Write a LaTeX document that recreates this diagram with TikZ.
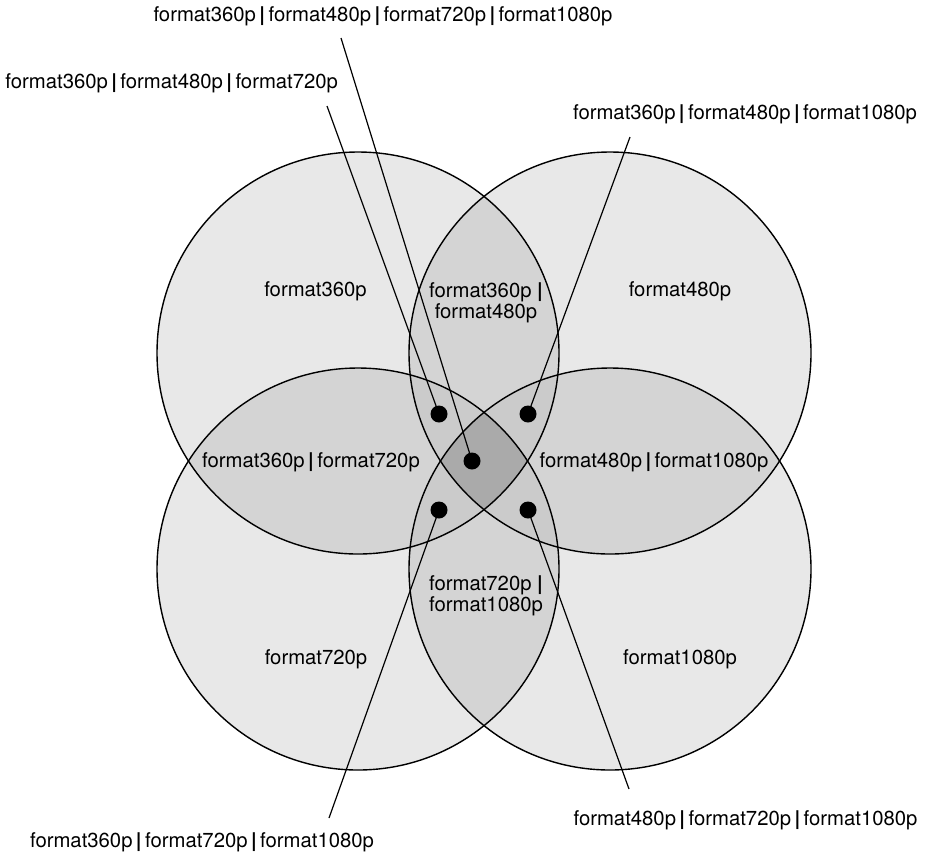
\documentclass[tikz,border=0pt]{standalone}
\usepackage{fontspec}
\setmainfont{TeX Gyre Heros}
\definecolor{oneset}{gray}{0.91}
\definecolor{twoset}{gray}{0.831}
\definecolor{threeset}{gray}{0.796}
\definecolor{fourset}{gray}{0.667}
% separator between format names
\newcommand{\orbar}{\hspace{0.17em}\textbf{|}\hspace{0.17em}}
\begin{document}
\begin{tikzpicture}[x=1pt,y=-1pt,
  lbl/.style={inner sep=0pt, font=\fontsize{20.3}{21}\selectfont, text=black},
  dotmark/.style={circle, fill=black, inner sep=0pt, minimum size=17pt},
  ring/.style={draw=black, line width=1.4pt},
  leader/.style={draw=black, line width=1.2pt}]
\useasboundingbox (0,0) rectangle (925,855);
\fill[white] (0,0) rectangle (925,855);

% the four sets
\def\cA{(358,353) circle[radius=201pt]}
\def\cB{(610,353) circle[radius=201pt]}
\def\cC{(358,569) circle[radius=201pt]}
\def\cD{(610,569) circle[radius=201pt]}

% single regions
\fill[oneset] \cA; \fill[oneset] \cB; \fill[oneset] \cC; \fill[oneset] \cD;
% pairwise overlaps
\begin{scope}\clip \cA; \fill[twoset] \cB; \end{scope}
\begin{scope}\clip \cA; \fill[twoset] \cC; \end{scope}
\begin{scope}\clip \cA; \fill[twoset] \cD; \end{scope}
\begin{scope}\clip \cB; \fill[twoset] \cC; \end{scope}
\begin{scope}\clip \cB; \fill[twoset] \cD; \end{scope}
\begin{scope}\clip \cC; \fill[twoset] \cD; \end{scope}
% triple overlaps
\begin{scope}\clip \cA; \clip \cB; \fill[threeset] \cC; \end{scope}
\begin{scope}\clip \cA; \clip \cB; \fill[threeset] \cD; \end{scope}
\begin{scope}\clip \cA; \clip \cC; \fill[threeset] \cD; \end{scope}
\begin{scope}\clip \cB; \clip \cC; \fill[threeset] \cD; \end{scope}
% all four
\begin{scope}\clip \cA; \clip \cB; \clip \cC; \fill[fourset] \cD; \end{scope}

% outlines
\draw[ring] \cA; \draw[ring] \cB; \draw[ring] \cC; \draw[ring] \cD;

% region labels
\node[lbl, anchor=base] (l360) at (315.5,296) {format360p};
\node[lbl, anchor=base] (l480) at (680,296) {format480p};
\node[lbl, anchor=base] (l720) at (316,664) {format720p};
\node[lbl, anchor=base] (l1080) at (680,664) {format1080p};
\node[lbl, anchor=base] (l360n720) at (311,467) {format360p\orbar format720p};
\node[lbl, anchor=base] (l480n1080) at (654,467) {format480p\orbar format1080p};
\node[lbl, align=center] (l360n480) at (486,302.5) {format360p \textbf{|}\\format480p};
\node[lbl, align=center] (l720n1080) at (486,596) {format720p \textbf{|}\\format1080p};

% outside labels
\node[lbl, anchor=base] (lall) at (383,21) {format360p\orbar format480p\orbar format720p\orbar format1080p};
\node[lbl, anchor=base] (l3t) at (171.7,88.3) {format360p\orbar format480p\orbar format720p};
\node[lbl, anchor=base] (l3r) at (745,119) {format360p\orbar format480p\orbar format1080p};
\node[lbl, anchor=base] (l3b) at (202,847) {format360p\orbar format720p\orbar format1080p};
\node[lbl, anchor=base] (l3br) at (745.5,825.7) {format480p\orbar format720p\orbar format1080p};

% leader ends
\coordinate (eall) at (341,38);
\coordinate (e3t) at (327,106);
\coordinate (e3r) at (630,137);
\coordinate (e3b) at (329,818);
\coordinate (e3br) at (629,789);

% dot positions
\coordinate (pA) at (439,414);
\coordinate (pB) at (528,414);
\coordinate (pM) at (472,461);
\coordinate (pC) at (439,510);
\coordinate (pD) at (528,510);

% leaders, then the dots on top of them
\draw[leader] (eall) -- (pM);
\draw[leader] (e3t) -- (pA);
\draw[leader] (e3r) -- (pB);
\draw[leader] (e3b) -- (pC);
\draw[leader] (e3br) -- (pD);
\node[dotmark] (dA) at (pA) {};
\node[dotmark] (dB) at (pB) {};
\node[dotmark] (dM) at (pM) {};
\node[dotmark] (dC) at (pC) {};
\node[dotmark] (dD) at (pD) {};
\end{tikzpicture}
\end{document}
